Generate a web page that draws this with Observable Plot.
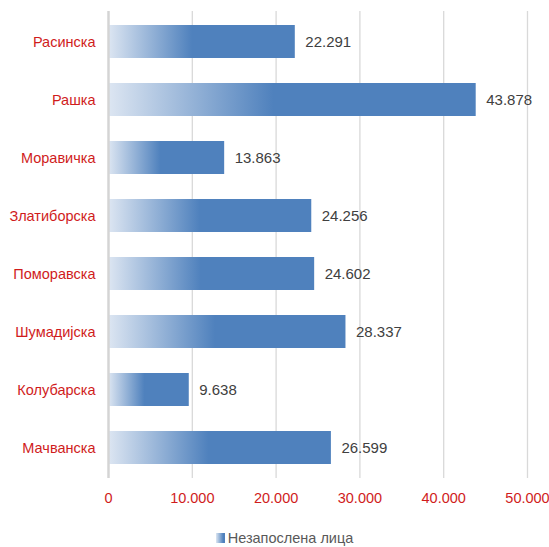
<!DOCTYPE html>
<html>
<head>
<meta charset="utf-8">
<script src="https://cdn.jsdelivr.net/npm/d3@7"></script>
<script src="https://cdn.jsdelivr.net/npm/@observablehq/plot@0.6"></script>
<style>
  html, body { margin: 0; padding: 0; background: #fff; overflow: hidden; }
  #wrap { width: 549px; font-family: "Liberation Sans", Arial, sans-serif; }
  #legend { display: flex; justify-content: center; align-items: center; margin-top: 15px; height: 16px; line-height: 16px; font-size: 14.5px; color: #595959; padding-left: 20px; }
  #legend .sw { width: 9px; height: 10px; background: linear-gradient(to right, #dce6f2, #4f81bd 80%); margin-right: 3px; }
</style>
</head>
<body>
<div id="wrap"></div>
<script>
const regions = ["Расинска", "Рашка", "Моравичка", "Златиборска", "Поморавска", "Шумадијска", "Колубарска", "Мачванска"];
const unemployed = [22291, 43878, 13863, 24256, 24602, 28337, 9638, 26599];
const xTicks = [0, 10000, 20000, 30000, 40000, 50000];
const seriesName = "Незапослена лица";

const data = regions.map((r, i) => ({region: r, value: unemployed[i]}));
const fmt = v => d3.format(",")(v).replace(/,/g, ".");

const chart = Plot.plot({
  width: 549,
  height: 515,
  marginTop: 11,
  marginBottom: 37,
  marginLeft: 108,
  marginRight: 22,
  style: {fontFamily: "Liberation Sans, Arial, sans-serif", fontSize: "14.5px", background: "#fff"},
  x: {domain: [0, 50000], ticks: xTicks, tickFormat: fmt, label: null},
  y: {domain: regions, paddingInner: 0.43, paddingOuter: 0.215, label: null},
  marks: [
    Plot.gridX(xTicks.slice(1), {stroke: "#d9d9d9", strokeOpacity: 1, strokeWidth: 1.3}),
    Plot.axisX({ticks: xTicks, tickFormat: fmt, tickSize: 0, tickPadding: 14, fill: "#d01c1c", fontSize: 14.5, label: null}),
    Plot.axisY({tickSize: 0, tickPadding: 13, fill: "#d01c1c", fontSize: 14.5, label: null}),
    Plot.barX(data, {x: "value", y: "region", fill: "url(#barGrad)"}),
    Plot.ruleX([0], {stroke: "#d4d4d4", strokeWidth: 2.5}),
    Plot.text(data, {x: "value", y: "region", text: d => fmt(d.value), dx: 10, textAnchor: "start", fill: "#404040", fontSize: 15})
  ]
});

const svg = d3.select(chart);
const grad = svg.insert("defs", ":first-child").append("linearGradient")
  .attr("id", "barGrad").attr("x1", "0").attr("x2", "1").attr("y1", "0").attr("y2", "0");
grad.append("stop").attr("offset", "0").attr("stop-color", "#dde6f2");
grad.append("stop").attr("offset", "0.45").attr("stop-color", "#4f81bd");
grad.append("stop").attr("offset", "1").attr("stop-color", "#4f81bd");

const wrap = document.getElementById("wrap");
wrap.appendChild(chart);
const legend = document.createElement("div");
legend.id = "legend";
legend.innerHTML = '<span class="sw"></span><span></span>';
legend.lastChild.textContent = seriesName;
wrap.appendChild(legend);
</script>
</body>
</html>
